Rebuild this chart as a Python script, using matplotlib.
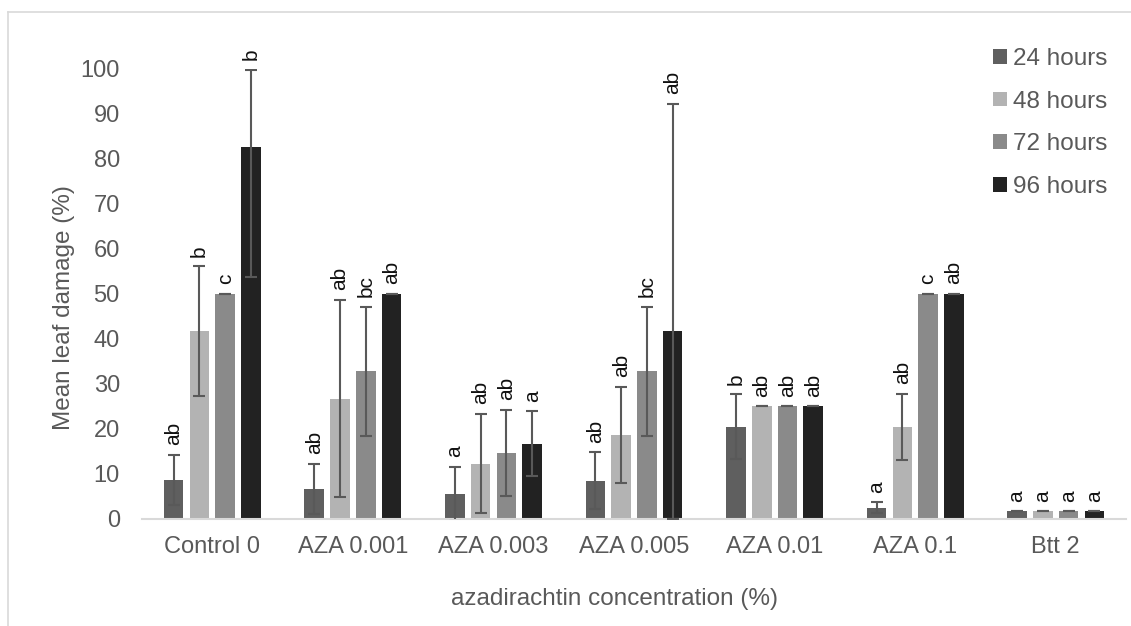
import numpy as np
import matplotlib
matplotlib.use("Agg")
import matplotlib.pyplot as plt
from matplotlib.lines import Line2D

plt.rcParams['font.family'] = ['Liberation Sans', 'DejaVu Sans']

# data
groups = ['Control 0', 'AZA 0.001', 'AZA 0.003', 'AZA 0.005', 'AZA 0.01', 'AZA 0.1', 'Btt 2']
series = ['24 hours', '48 hours', '72 hours', '96 hours']

h24 = [8.7, 6.7, 5.6, 8.5, 20.5, 2.5, 1.7]
h48 = [41.7, 26.7, 12.3, 18.7, 25.0, 20.5, 1.7]
h72 = [50.0, 32.8, 14.7, 32.8, 25.0, 50.0, 1.7]
h96 = [82.7, 50.0, 16.7, 41.7, 25.0, 50.0, 1.7]

# error bars (lower, upper)
e24_lo = [5.5, 5.6, 6.0, 6.3, 7.2, 1.2, 0]
e24_hi = [5.5, 5.6, 6.0, 6.3, 7.2, 1.2, 0]
e48_lo = [14.4, 21.9, 11.0, 10.7, 0, 7.3, 0]
e48_hi = [14.4, 21.9, 11.0, 10.7, 0, 7.3, 0]
e72_lo = [0, 14.4, 9.5, 14.4, 0, 0, 0]
e72_hi = [0, 14.4, 9.5, 14.4, 0, 0, 0]
e96_lo = [29.0, 0, 7.2, 41.7, 0, 0, 0]
e96_hi = [17.0, 0, 7.2, 50.6, 0, 0, 0]

# significance letters
l24 = ['ab', 'ab', 'a', 'ab', 'b', 'a', 'a']
l48 = ['b', 'ab', 'ab', 'ab', 'ab', 'ab', 'a']
l72 = ['c', 'bc', 'ab', 'bc', 'ab', 'c', 'a']
l96 = ['b', 'ab', 'a', 'ab', 'ab', 'ab', 'a']

colors = ['#5f5f5f', '#b3b3b3', '#8a8a8a', '#222222']
gray_text = '#595959'

fig = plt.figure(figsize=(11.31, 6.26), dpi=100)
ax = fig.add_axes([0.1256, 0.171, 0.870, 0.719])

x = np.arange(len(groups))
width = 0.139
offsets = [-0.275, -0.0915, 0.0915, 0.275]

vals = [h24, h48, h72, h96]
errs = [(e24_lo, e24_hi), (e48_lo, e48_hi), (e72_lo, e72_hi), (e96_lo, e96_hi)]
labs = [l24, l48, l72, l96]

for i in range(4):
    xs = x + offsets[i]
    ax.bar(xs, vals[i], width, color=colors[i], label=series[i], zorder=2)
    ax.errorbar(xs, vals[i], yerr=[errs[i][0], errs[i][1]], fmt='none',
                ecolor=gray_text, elinewidth=1.5, capsize=4, capthick=1.5, zorder=3)
    for j in range(len(groups)):
        top = vals[i][j] + errs[i][1][j]
        ax.annotate(labs[i][j], (xs[j], top), xytext=(0, 7), textcoords='offset points',
                    rotation=90, ha='center', va='bottom', fontsize=15,
                    color='#111111', annotation_clip=False)

ax.set_xlim(-0.5, 6.5)
ax.set_ylim(0, 100)
ax.set_yticks(np.arange(0, 101, 10))
ax.set_xticks(x)
ax.set_xticklabels(groups)
ax.tick_params(axis='both', length=0, labelsize=17, colors=gray_text)
ax.tick_params(axis='y', pad=16)
ax.tick_params(axis='x', pad=12)

for s in ['top', 'right', 'left']:
    ax.spines[s].set_visible(False)
ax.spines['bottom'].set_color('#d9d9d9')
ax.spines['bottom'].set_linewidth(1.5)

fig.text(0.0566, 0.508, 'Mean leaf damage (%)', rotation=90, ha='center', va='center',
         fontsize=17.5, color=gray_text)
fig.text(0.543, 0.043, 'azadirachtin concentration (%)', ha='center', va='center',
         fontsize=17.5, color=gray_text)

leg = ax.legend(loc='upper right', bbox_to_anchor=(1.003, 1.095), frameon=False,
                fontsize=17.5, handlelength=0.55, handleheight=0.55, handletextpad=0.25,
                labelspacing=0.85, labelcolor=gray_text)

# light frame of the chart area (top and left edges)
fig.add_artist(Line2D([8 / 1131, 1.0], [1 - 12 / 626] * 2, color='#d9d9d9', lw=1.2))
fig.add_artist(Line2D([8 / 1131] * 2, [0, 1 - 12 / 626], color='#d9d9d9', lw=1.2))

fig.savefig('out.png', dpi=100)
